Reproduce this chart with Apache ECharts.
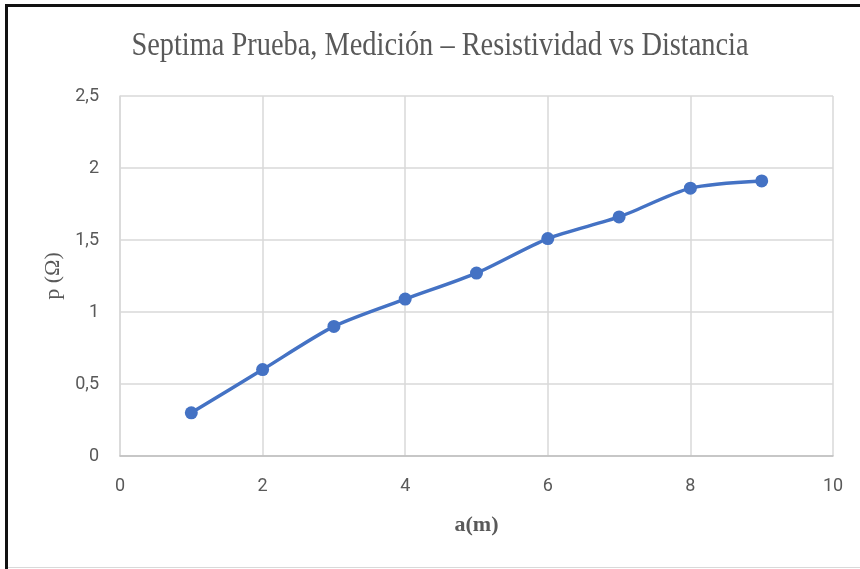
<!DOCTYPE html>
<html><head><meta charset="utf-8">
<script src="https://cdn.jsdelivr.net/npm/echarts@6/dist/echarts.min.js"></script>
<style>
html,body{margin:0;padding:0;background:#fff;}
#frame{position:absolute;left:0;top:0;width:860px;height:569px;}
#b1{position:absolute;left:5px;top:4px;width:855px;height:3px;background:#111;}
#b2{position:absolute;left:5px;top:4px;width:3px;height:565px;background:#111;}
#b3{position:absolute;left:8px;top:567px;width:852px;height:1px;background:#d9d9d9;}
#main{position:absolute;left:0;top:0;width:860px;height:569px;}
</style></head>
<body>
<div id="frame"><div id="main"></div><div id="b1"></div><div id="b2"></div><div id="b3"></div></div>
<script>
var titleText = 'Septima Prueba, Medición – Resistividad vs Distancia';
var xName = 'a(m)';
var yName = 'p (Ω)';
var xValues = [1, 2, 3, 4, 5, 6, 7, 8, 9];
var yValues = [0.30, 0.60, 0.90, 1.09, 1.27, 1.51, 1.66, 1.86, 1.91];

var data = xValues.map(function(x, i){ return [x, yValues[i]]; });
var labelFont = 'Roboto, "Noto Sans", sans-serif';
var chart = echarts.init(document.getElementById('main'));
chart.setOption({
  animation: false,
  graphic: [{
    type: 'text', x: 440, y: 46, scaleX: 0.86,
    style: {text: titleText, fontFamily: 'Liberation Serif', fontSize: 33, fill: '#595959',
      align: 'center', verticalAlign: 'middle'}
  }],
  grid: {left: 120, right: 27, top: 96, bottom: 113, containLabel: false},
  xAxis: {
    type: 'value', min: 0, max: 10, interval: 2,
    name: xName, nameLocation: 'middle', nameGap: 58,
    nameTextStyle: {fontFamily: 'Liberation Serif', fontSize: 22, fontWeight: 'bold', color: '#595959'},
    axisLine: {show: true, lineStyle: {color: '#bfbfbf', width: 1.5}},
    axisTick: {show: false},
    axisLabel: {fontFamily: labelFont, fontSize: 18, color: '#595959', margin: 21},
    splitLine: {show: true, lineStyle: {color: '#d9d9d9', width: 1.5}}
  },
  yAxis: {
    type: 'value', min: 0, max: 2.5, interval: 0.5,
    name: yName, nameLocation: 'middle', nameGap: 50, nameRotate: 90,
    nameTextStyle: {fontFamily: 'Liberation Serif', fontSize: 22, color: '#595959'},
    axisLine: {show: true, lineStyle: {color: '#d9d9d9', width: 1.5}},
    axisTick: {show: false},
    axisLabel: {fontFamily: labelFont, fontSize: 18, color: '#595959', margin: 21,
      formatter: function(v){ return String(v).replace('.', ','); }},
    splitLine: {show: true, lineStyle: {color: '#d9d9d9', width: 1.5}}
  },
  series: [{
    type: 'line', data: data, smooth: 0.25,
    symbol: 'circle', symbolSize: 13,
    lineStyle: {color: '#4472C4', width: 3.5},
    itemStyle: {color: '#4472C4'}
  }]
});
</script>
</body></html>
